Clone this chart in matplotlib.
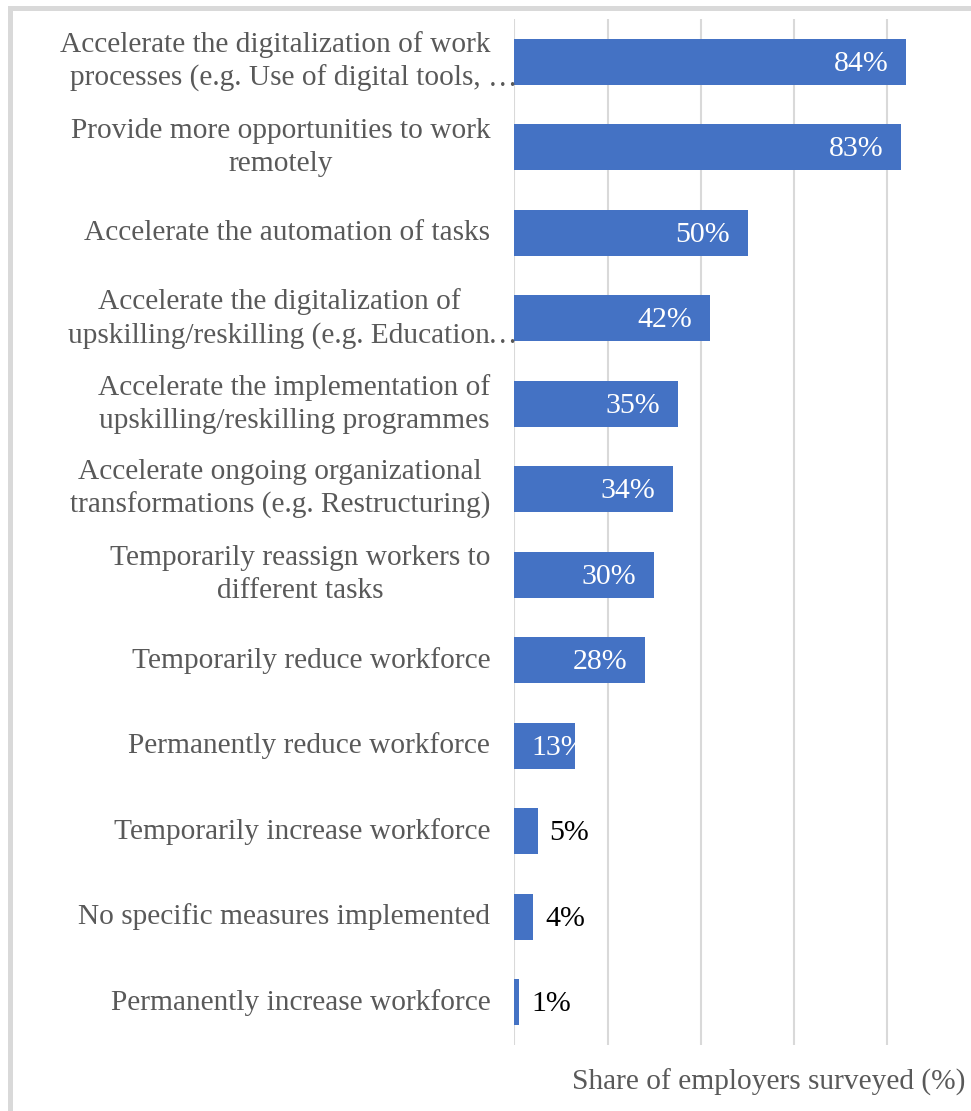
import matplotlib.pyplot as plt
import matplotlib.patches as patches
import matplotlib.transforms as mtransforms

plt.rcParams["font.family"] = ["Liberation Serif", "DejaVu Serif"]

# Measures taken by employers, top to bottom
measures = [
    "Accelerate the digitalization of work\nprocesses (e.g. Use of digital tools,",
    "Provide more opportunities to work\nremotely",
    "Accelerate the automation of tasks",
    "Accelerate the digitalization of\nupskilling/reskilling (e.g. Education",
    "Accelerate the implementation of\nupskilling/reskilling programmes",
    "Accelerate ongoing organizational\ntransformations (e.g. Restructuring)",
    "Temporarily reassign workers to\ndifferent tasks",
    "Temporarily reduce workforce",
    "Permanently reduce workforce",
    "Temporarily increase workforce",
    "No specific measures implemented",
    "Permanently increase workforce",
]
truncated = [True, False, False, True, False, False, False, False, False, False, False, False]
shares = [84, 83, 50, 42, 35, 34, 30, 28, 13, 5, 4, 1]
grid_ticks = [0, 20, 40, 60, 80]

bar_color = "#4472C4"
grid_color = "#D9D9D9"
text_gray = "#595959"
W, H = 971, 1111

fig = plt.figure(figsize=(W / 100, H / 100), dpi=100)
ax = fig.add_axes([514.3 / W, 1 - 1045 / H, (W - 514.3) / W, (1045 - 19) / H])

y = list(range(len(measures)))
ax.barh(y, shares, height=0.54, color=bar_color, zorder=2)

ax.set_xlim(0, 97.9)
ax.set_ylim(len(measures) - 0.5, -0.5)
ax.set_xticks(grid_ticks)
ax.set_yticks([])
ax.tick_params(axis="x", length=0, labelbottom=False)
ax.grid(axis="x", color=grid_color, linewidth=1.5, zorder=0)
for side in ["top", "right", "bottom", "left"]:
    ax.spines[side].set_visible(False)

# Category labels, right aligned against the axis, lines centred
label_tf = ax.get_yaxis_transform() + mtransforms.ScaledTranslation(-24 / 100, 0, fig.dpi_scale_trans)
for yi, (name, cut) in enumerate(zip(measures, truncated)):
    t = ax.text(0, yi, name, transform=label_tf, ha="right", va="center",
                multialignment="center", fontsize=21.2, color=text_gray,
                linespacing=1.33)
    if cut:
        ax.annotate("\u2026", xy=(1, 0), xycoords=t, xytext=(-2, 0),
                    textcoords="offset pixels", ha="left", va="bottom",
                    fontsize=21.2, color=text_gray, annotation_clip=False)

# Value labels: inside end in white, outside in black for short bars
px = fig.dpi_scale_trans
for yi, v in enumerate(shares):
    if v >= 20:
        ax.text(v, yi, f"{v}%", ha="right", va="center", fontsize=21.5, color="white",
                transform=ax.transData + mtransforms.ScaledTranslation(-18 / 100, -2 / 100, px), zorder=3)
    elif v >= 10:
        ax.text(0, yi, f"{v}%", ha="left", va="center", fontsize=21.5, color="white",
                transform=ax.transData + mtransforms.ScaledTranslation(17 / 100, -2 / 100, px), zorder=3)
    else:
        ax.text(v, yi, f"{v}%", ha="left", va="center", fontsize=21.5, color="black",
                transform=ax.transData + mtransforms.ScaledTranslation(12 / 100, -2 / 100, px), zorder=3)

fig.text(965 / W, 1 - 1082 / H, "Share of employers surveyed (%)", ha="right", va="center",
         fontsize=21.2, color=text_gray)

# Chart frame
frame = patches.Rectangle((9.5 / W, -0.1), 1.2, 1.1 - 8.5 / H, transform=fig.transFigure,
                          fill=False, edgecolor="#D9D9D9", linewidth=3.6)
fig.patches.append(frame)

fig.savefig("out.png", dpi=100)
